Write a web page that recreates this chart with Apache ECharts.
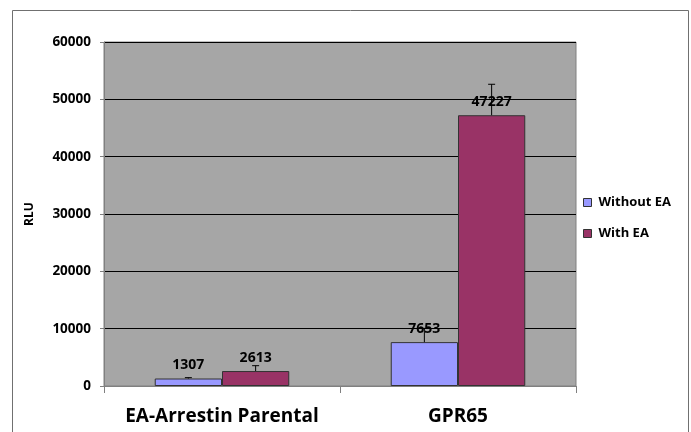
<!DOCTYPE html>
<html>
<head>
<meta charset="utf-8">
<script src="https://cdn.jsdelivr.net/npm/echarts@6/dist/echarts.min.js"></script>
<style>
html,body{margin:0;padding:0;background:#fff;overflow:hidden;}
#c{width:691px;height:432px;}
</style>
</head>
<body>
<div id="c"></div>
<script>
var categories = ['EA-Arrestin Parental', 'GPR65'];
var seriesNames = ['Without EA', 'With EA'];
var withoutEA = [1307, 7653];
var withEA = [2613, 47227];
var withoutEAErr = [150, 2400];
var withEAErr = [930, 5400];
var yTicks = [0, 10000, 20000, 30000, 40000, 50000, 60000];

var FONT = 'Open Sans';
var catGap = 0.43;

function errData(vals, errs) {
  return vals.map(function (v, i) { return [i, v, errs[i]]; });
}

function makeErr(sideSign) {
  return function (params, api) {
    var idx = api.value(0), val = api.value(1), err = api.value(2);
    var catW = api.size([1, 0])[0];
    var barW = catW * (1 - catGap) / 2;
    var base = api.coord([idx, val]);
    var top = api.coord([idx, val + err]);
    var x = base[0] + sideSign * barW / 2;
    var cap = 3.5;
    return {
      type: 'group',
      children: [
        { type: 'line', shape: { x1: x, y1: base[1], x2: x, y2: top[1] }, style: { stroke: '#000', lineWidth: 1 } },
        { type: 'line', shape: { x1: x - cap, y1: top[1], x2: x + cap, y2: top[1] }, style: { stroke: '#000', lineWidth: 1 } }
      ]
    };
  };
}

var chart = echarts.init(document.getElementById('c'), null, { renderer: 'canvas' });
chart.setOption({
  animation: false,
  backgroundColor: '#fff',
  textStyle: { fontFamily: FONT },
  graphic: {
    elements: [
      { type: 'rect', id: 'frame', silent: true, z: 100,
        shape: { x: 12.5, y: 10.5, width: 676, height: 440 },
        style: { fill: null, stroke: '#707070', lineWidth: 1 } }
    ]
  },
  grid: {
    left: 104, right: 115, top: 42, bottom: 46,
    show: true, backgroundColor: '#A6A6A6', borderColor: '#808080', borderWidth: 1
  },
  legend: {
    orient: 'vertical', left: 578, top: 191,
    data: seriesNames,
    itemWidth: 8, itemHeight: 8, itemGap: 18,
    icon: 'rect',
    textStyle: { fontFamily: FONT, fontWeight: 'bold', fontSize: 13, color: '#000', padding: [0, 0, 0, 2] },
    itemStyle: { borderColor: '#333', borderWidth: 1 }
  },
  xAxis: {
    type: 'category',
    data: categories,
    axisLine: { lineStyle: { color: '#808080' } },
    axisTick: { show: true, length: 7, lineStyle: { color: '#808080' } },
    axisLabel: { interval: 0, hideOverlap: false, fontFamily: FONT, fontWeight: 'bold', fontSize: 19, color: '#000', margin: 21 },
    splitLine: { show: false }
  },
  yAxis: {
    type: 'value',
    min: 0, max: 60000, interval: 10000,
    name: 'RLU',
    nameLocation: 'middle',
    nameGap: 68,
    nameTextStyle: { fontFamily: FONT, fontWeight: 'bold', fontSize: 12, color: '#000' },
    axisLine: { show: true, lineStyle: { color: '#808080' } },
    axisTick: { show: true, length: 4, lineStyle: { color: '#808080' } },
    axisLabel: {
      fontFamily: FONT, fontWeight: 'bold', fontSize: 13.5, color: '#000', margin: 13,
      formatter: function (v) { return yTicks.indexOf(v) >= 0 ? String(v) : ''; }
    },
    splitLine: { show: true, lineStyle: { color: '#000', width: 1 } }
  },
  series: [
    {
      name: seriesNames[0], type: 'bar', data: withoutEA,
      barGap: '0%', barCategoryGap: (catGap * 100) + '%',
      itemStyle: { color: '#9999FF', borderColor: '#333', borderWidth: 1 },
      label: { show: true, position: 'top', distance: 6, fontFamily: FONT, fontWeight: 'bold', fontSize: 14, color: '#000' },
      z: 2
    },
    {
      name: seriesNames[1], type: 'bar', data: withEA,
      barGap: '0%', barCategoryGap: (catGap * 100) + '%',
      itemStyle: { color: '#993366', borderColor: '#333', borderWidth: 1 },
      label: { show: true, position: 'top', distance: 6, fontFamily: FONT, fontWeight: 'bold', fontSize: 14, color: '#000' },
      z: 2
    },
    {
      name: 'errWithout', type: 'custom', data: errData(withoutEA, withoutEAErr),
      renderItem: makeErr(-1), encode: { x: 0, y: 1 }, z: 3, silent: true
    },
    {
      name: 'errWith', type: 'custom', data: errData(withEA, withEAErr),
      renderItem: makeErr(1), encode: { x: 0, y: 1 }, z: 3, silent: true
    }
  ]
});
</script>
</body>
</html>
